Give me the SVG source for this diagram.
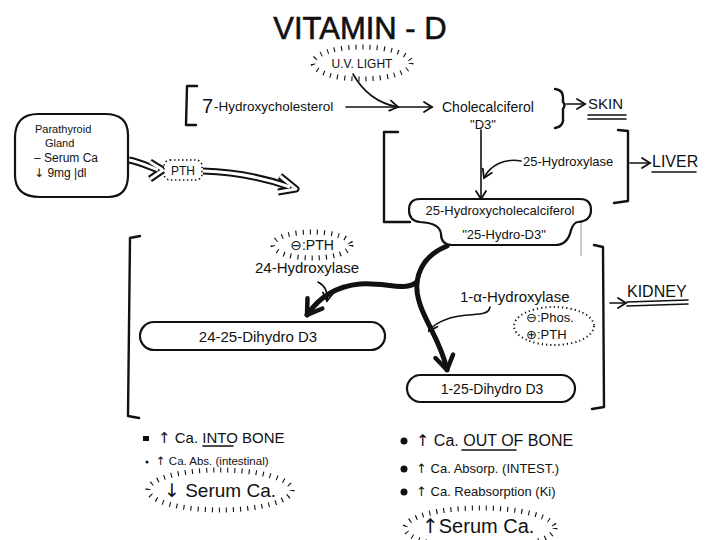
<svg xmlns="http://www.w3.org/2000/svg" width="720" height="540" viewBox="0 0 720 540">
<defs>
<style>
text{font-family:"Liberation Sans","DejaVu Sans",sans-serif;fill:#111}
.ar{font-family:"DejaVu Sans",sans-serif}
.ln{fill:none;stroke:#111;stroke-width:1.6;stroke-linecap:round;stroke-linejoin:round}
.br{fill:none;stroke:#111;stroke-width:2.4;stroke-linecap:round;stroke-linejoin:round}
.thick{fill:none;stroke:#111;stroke-width:5;stroke-linecap:round}
.box{fill:#fff;stroke:#111;stroke-width:2.2}
.rays{fill:none;stroke:#111;stroke-width:5;stroke-dasharray:1.1 6}
.dots{fill:none;stroke:#111;stroke-width:2;stroke-dasharray:1.2 3}
.hol{fill:none;stroke:#111;stroke-width:7;stroke-linejoin:round}
.holin{fill:none;stroke:#fff;stroke-width:3;stroke-linejoin:round}
</style>
<marker id="ah" viewBox="-10 -7 12 14" refX="0" refY="0" markerWidth="12" markerHeight="14" markerUnits="userSpaceOnUse" orient="auto">
<path d="M-8,-5 L0,0 L-8,5" fill="none" stroke="#111" stroke-width="1.8" stroke-linecap="round"/>
</marker>
<marker id="ahb" viewBox="-18 -12 20 24" refX="0" refY="0" markerWidth="20" markerHeight="24" markerUnits="userSpaceOnUse" orient="auto">
<path d="M-14,-9 L0,0 L-14,9" fill="none" stroke="#111" stroke-width="4.5" stroke-linecap="round" stroke-linejoin="round"/>
</marker>
</defs>
<rect width="720" height="540" fill="#fff"/>
<text x="360" y="39" font-size="31" text-anchor="middle" stroke="#111" stroke-width="0.6">VITAMIN - D</text>

<g id="connectors">
<path class="ln" d="M346,107 L432,107" marker-end="url(#ah)"/>
<path class="ln" d="M353,74 C362,90 375,103 398,107" marker-end="url(#ah)"/>
<path class="ln" d="M566,104 L585,104" marker-end="url(#ah)"/>
<path class="ln" d="M481,130 L481,199" marker-end="url(#ah)"/>
<path class="ln" d="M521,161 C505,158 490,165 484,178" marker-end="url(#ah)"/>
<path class="ln" d="M630,163 L650,163" marker-end="url(#ah)"/>
<path class="ln" d="M610,303 L626,303" marker-end="url(#ah)"/>
<path class="thick" d="M447,246 C432,252 420,262 417,282"/>
<path class="thick" d="M417,282 C405,292 385,282 360,284 C338,286 320,296 307,315" marker-end="url(#ahb)"/>
<path class="thick" d="M417,282 C414,310 440,335 447,370" marker-end="url(#ahb)"/>
<path class="ln" d="M318,282 C326,286 328,292 327,301" marker-end="url(#ah)"/>
<path class="ln" d="M490,307 C488,318 470,312 450,318 C438,322 432,326 429,331" marker-end="url(#ah)"/>
<path class="hol" d="M129,160 C140,162 150,167 158,170"/>
<path class="hol" d="M150,162 L163,170 L150,179"/>
<path class="holin" d="M129,160 C140,162 150,167 158,170"/>
<path class="holin" d="M150,162 L163,170 L150,179"/>
<path class="hol" d="M203,171 C235,172 262,177 290,187"/>
<path class="hol" d="M280,176 L296,189 L278,192"/>
<path class="holin" d="M203,171 C235,172 262,177 290,187"/>
<path class="holin" d="M280,176 L296,189 L278,192"/>
<line x1="581" y1="219" x2="581" y2="256" stroke="#bbb" stroke-width="1.5"/>
</g>

<g id="skin">
<path class="br" d="M197,86 L187,86 L186,125 L196,125"/>
<path class="br" d="M555,89 Q563,90 563,97 L563,102 Q566,105 563,109 L563,121 Q562,127 555,128"/>
<text x="588" y="109" font-size="15">SKIN</text>
<path class="ln" d="M588,115 L626,115 M588,119 L626,119"/>
</g>
<g id="uvlight">
<ellipse class="rays" cx="362" cy="63" rx="49" ry="16"/>
<text x="362" y="68" font-size="12" text-anchor="middle">U.V. LIGHT</text>
</g>
<g id="hydroxycholesterol">
<text x="202" y="113" font-size="20">7</text>
<text x="214" y="111" font-size="13.5">-Hydroxycholesterol</text>
</g>
<g id="cholecalciferol">
<text x="442" y="112" font-size="14">Cholecalciferol</text>
<text x="483" y="129" font-size="13" text-anchor="middle">"D3"</text>
</g>

<g id="liver">
<path class="br" d="M398,132 L384,132 L384,222 L410,222"/>
<path class="br" d="M618,130 L628,131 L628,201 L614,203"/>
<text x="652" y="167" font-size="16">LIVER</text>
<path class="ln" d="M652,172 L696,172"/>
<text x="523" y="166" font-size="13">25-Hydroxylase</text>
</g>
<g id="hydroxy25">
<path class="box" d="M420,199 L580,199 Q591,199 591,210 Q591,221 578,222 Q574,222 571,230 Q568,245 555,245 L452,245 Q441,245 441,234 Q440,223 420,222 Q409,221 409,210 Q409,199 420,199 Z"/>
<text x="500" y="215" font-size="13" text-anchor="middle">25-Hydroxycholecalciferol</text>
<text x="504" y="239" font-size="13" text-anchor="middle">"25-Hydro-D3"</text>
</g>

<g id="parathyroid">
<path class="box" d="M38,114 Q15,114 15,138 L15,175 Q15,197 40,197 L108,197 Q128,197 128,175 L128,135 Q128,114 105,114 Z"/>
<text x="35" y="133" font-size="11">Parathyroid</text>
<text x="45" y="147" font-size="11">Gland</text>
<text x="34" y="162" font-size="12">– Serum Ca</text>
<text x="34" y="177" font-size="12"><tspan class="ar">↓</tspan> 9mg |dl</text>
</g>
<g id="pth">
<rect x="164" y="160" width="38" height="20" rx="6" fill="#fff" stroke="#111" stroke-width="1.5" stroke-dasharray="1.5 2.5"/>
<text x="183" y="175" font-size="12" text-anchor="middle">PTH</text>
</g>

<g id="kidney">
<path class="br" d="M140,236 L130,238 L128,416 L139,418"/>
<path class="br" d="M594,245 L603,247 L604,407 L592,409"/>
<text x="627" y="297" font-size="16">KIDNEY</text>
<path class="ln" d="M627,302 L688,300 M627,306 L688,304"/>
</g>
<g id="pth24">
<ellipse class="rays" cx="312" cy="245" rx="39" ry="13"/>
<text x="312" y="250" font-size="14" text-anchor="middle"><tspan class="ar">⊖</tspan>:PTH</text>
<text x="255" y="273" font-size="15">24-Hydroxylase</text>
</g>
<g id="dihydro2425">
<rect class="box" x="140" y="322" width="245" height="28" rx="14"/>
<text x="258" y="342" font-size="15" text-anchor="middle">24-25-Dihydro D3</text>
</g>
<g id="alpha">
<text x="460" y="302" font-size="15">1-α-Hydroxylase</text>
<ellipse class="dots" cx="554" cy="326" rx="40" ry="19"/>
<text x="526" y="322" font-size="13"><tspan class="ar">⊖</tspan>:Phos.</text>
<text x="526" y="339" font-size="13"><tspan class="ar">⊕</tspan>:PTH</text>
</g>
<g id="dihydro125">
<rect class="box" x="407" y="375" width="168" height="27" rx="13.5"/>
<text x="492" y="394" font-size="14" text-anchor="middle">1-25-Dihydro D3</text>
</g>

<g id="effects-left">
<rect x="143" y="436" width="6" height="5" fill="#111"/>
<text x="158" y="443" font-size="15"><tspan class="ar">↑</tspan> Ca. INTO BONE</text>
<path class="ln" d="M203,446 L233,446"/>
<circle cx="147" cy="462" r="1.5" fill="#111"/>
<text x="156" y="465" font-size="11.5"><tspan class="ar">↑</tspan> Ca. Abs. (intestinal)</text>
<ellipse class="rays" cx="220" cy="490" rx="72" ry="20"/>
<text x="220" y="497" font-size="19" text-anchor="middle"><tspan class="ar">↓</tspan> Serum Ca.</text>
</g>
<g id="effects-right">
<circle cx="404" cy="441" r="3.5" fill="#111"/>
<text x="416" y="446" font-size="16"><tspan class="ar">↑</tspan> Ca. OUT OF BONE</text>
<path class="ln" d="M462,450 L516,450"/>
<circle cx="404" cy="469" r="3.5" fill="#111"/>
<text x="416" y="473" font-size="13"><tspan class="ar">↑</tspan> Ca. Absorp. (INTEST.)</text>
<circle cx="404" cy="492" r="3.5" fill="#111"/>
<text x="416" y="496" font-size="13"><tspan class="ar">↑</tspan> Ca. Reabsorption (Ki)</text>
<ellipse class="rays" cx="480" cy="528" rx="75" ry="20"/>
<text x="422" y="533" font-size="20"><tspan class="ar">↑</tspan>Serum Ca.</text>
</g>
</svg>
